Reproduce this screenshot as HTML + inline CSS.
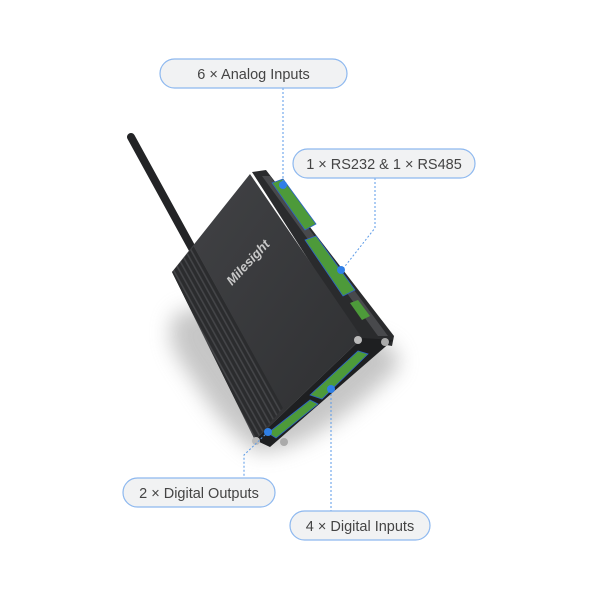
<!DOCTYPE html>
<html><head><meta charset="utf-8"><style>
html,body{margin:0;padding:0;background:#fff;}
svg{display:block;}
text{font-family:"Liberation Sans","DejaVu Sans",sans-serif;font-size:14.5px;fill:#444;}
</style></head><body>
<svg width="600" height="600" viewBox="0 0 600 600" xmlns="http://www.w3.org/2000/svg">
<defs>
<filter id="bl" x="-50%" y="-50%" width="200%" height="200%"><feGaussianBlur stdDeviation="10"/></filter>
<linearGradient id="face" x1="0" y1="0" x2="1" y2="1">
<stop offset="0" stop-color="#424346"/><stop offset="1" stop-color="#2e2f31"/></linearGradient>
<pattern id="fins" width="5" height="5" patternUnits="userSpaceOnUse" patternTransform="rotate(-29)">
<rect width="5" height="5" fill="#2b2c2e"/><rect width="1.6" height="5" fill="#444548"/></pattern>
</defs>
<!-- shadow -->
<path d="M178 312 Q158 335 190 375 Q225 432 258 452 Q312 452 398 368 Q402 348 378 340 L250 300 Z" fill="#a8a8a8" filter="url(#bl)" opacity="0.65"/>
<!-- antenna -->
<line x1="131" y1="137" x2="193" y2="250" stroke="#232426" stroke-width="8" stroke-linecap="round"/>
<!-- right side strip -->
<polygon points="252,172 266,170 394,336 392,346 360,340" fill="#2a2b2d"/>
<polygon points="262,176 270,176 388,336 378,336" fill="#48494c"/>
<!-- face -->
<polygon points="250,174 172,272 255,440 362,338" fill="url(#face)"/>
<!-- fins region -->
<polygon points="172,272 194,246 283,408 255,440" fill="url(#fins)"/>
<!-- bottom strip -->
<polygon points="255,440 362,338 393,340 270,447" fill="#1e1f21"/>
<!-- logo -->
<text x="0" y="0" transform="translate(232,286) rotate(-47)" style="font-size:13px;fill:#c8c8c8;font-style:italic;font-weight:bold">Milesight</text>
<!-- green connectors right side -->
<polygon points="272,183 283,179 316,224 305,230" fill="#4d9a3a" stroke="#2c63c9" stroke-width="0.8"/>
<polygon points="305,240 316,236 355,290 343,296" fill="#4d9a3a" stroke="#2c63c9" stroke-width="0.8"/>
<polygon points="350,303 358,300 370,316 362,320" fill="#4d9a3a"/>
<!-- green connectors bottom -->
<polygon points="310,395 358,351 368,354 322,399" fill="#4d9a3a" stroke="#2c63c9" stroke-width="0.8"/>
<polygon points="268,433 310,400 318,404 276,438" fill="#4d9a3a" stroke="#2c63c9" stroke-width="0.8"/>
<!-- screws -->
<circle cx="358" cy="340" r="4" fill="#bbb"/><circle cx="385" cy="342" r="4" fill="#aaa"/>
<circle cx="256" cy="441" r="4" fill="#bbb"/><circle cx="284" cy="442" r="4" fill="#aaa"/>
<!-- connector lines -->
<g stroke="#5a9ae8" stroke-width="1" stroke-dasharray="2,2" fill="none">
<polyline points="283,88 283,185"/>
<polyline points="375,178 375,228 342,270"/>
<polyline points="268,432 244,455 244,478"/>
<polyline points="331,390 331,511"/>
</g>
<g fill="#2f7fe6">
<circle cx="283" cy="185" r="4"/><circle cx="341" cy="270" r="4"/>
<circle cx="268" cy="432" r="4"/><circle cx="331" cy="389" r="4"/>
</g>
<!-- pills -->
<g fill="#f1f2f3" stroke="#8db8ef" stroke-width="1.2">
<rect x="160" y="59" width="187" height="29" rx="14.5"/>
<rect x="293" y="149" width="182" height="29" rx="14.5"/>
<rect x="123" y="478" width="152" height="29" rx="14.5"/>
<rect x="290" y="511" width="140" height="29" rx="14.5"/>
</g>
<text x="253.5" y="79" text-anchor="middle">6 × Analog Inputs</text>
<text x="384" y="169" text-anchor="middle">1 × RS232 &amp; 1 × RS485</text>
<text x="199" y="498" text-anchor="middle">2 × Digital Outputs</text>
<text x="360" y="531" text-anchor="middle">4 × Digital Inputs</text>
</svg>
</body></html>
